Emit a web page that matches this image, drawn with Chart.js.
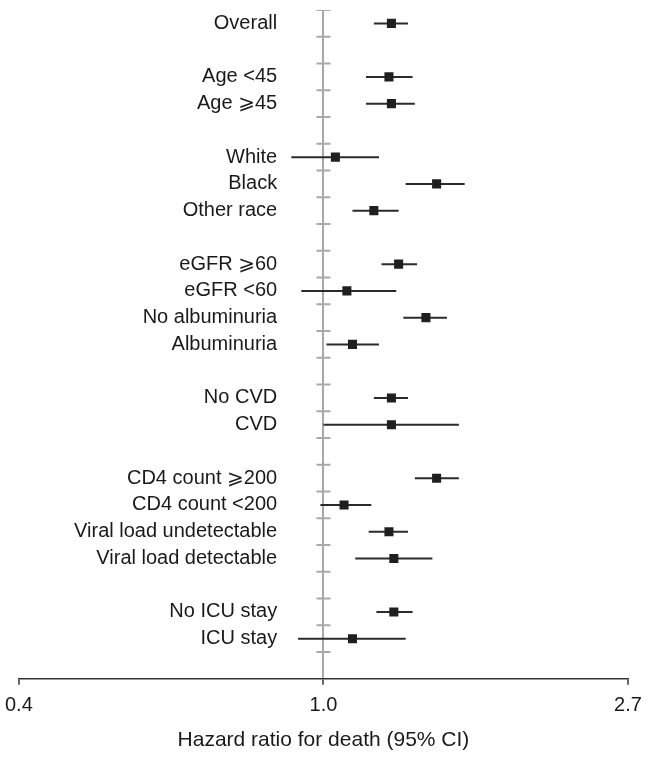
<!DOCTYPE html>
<html>
<head>
<meta charset="utf-8">
<script src="https://cdn.jsdelivr.net/npm/chart.js@4"></script>
<style>
  html, body { margin: 0; padding: 0; background: #fff; }
  #wrap { width: 651px; height: 759px; }
</style>
</head>
<body>
<div id="wrap"><canvas id="forest"></canvas></div>
<script>
// subgroup rows (slot index from the top, blank slots separate the groups)
const labels = [
  "Overall",
  "Age <45", "Age \u2A7E45",
  "White", "Black", "Other race",
  "eGFR \u2A7E60", "eGFR <60", "No albuminuria", "Albuminuria",
  "No CVD", "CVD",
  "CD4 count \u2A7E200", "CD4 count <200", "Viral load undetectable", "Viral load detectable",
  "No ICU stay", "ICU stay"
];
const rows = [0, 2, 3, 5, 6, 7, 9, 10, 11, 12, 14, 15, 17, 18, 19, 20, 22, 23];

// hazard ratios and 95% CI
const hr    = [1.25, 1.24, 1.25, 1.04, 1.45, 1.18, 1.28, 1.08, 1.40, 1.10, 1.25, 1.25, 1.45, 1.07, 1.24, 1.26, 1.26, 1.10];
const lower = [1.18, 1.15, 1.15, 0.90, 1.31, 1.10, 1.21, 0.93, 1.30, 1.01, 1.18, 1.00, 1.35, 0.99, 1.16, 1.11, 1.19, 0.92];
const upper = [1.32, 1.34, 1.35, 1.20, 1.59, 1.28, 1.36, 1.27, 1.50, 1.20, 1.32, 1.56, 1.56, 1.17, 1.32, 1.43, 1.34, 1.31];

// x axis ticks (1/e, 1, e) and their printed labels
const xTicks = [Math.exp(-1), 1, Math.exp(1)];
const xTickLabels = ["0.4", "1.0", "2.7"];

// little marks on the reference line, between rows
const dividerRows = [-0.5, 0.5, 1.5, 2.5, 3.5, 4.5, 5.5, 6.5, 7.5, 8.5, 9.5, 10.5, 11.5,
                     12.5, 13.5, 14.5, 15.5, 16.5, 17.5, 18.5, 19.5, 20.5, 21.5, 22.5, 23.5];

const FONT = "'Liberation Sans', Arial, Helvetica, 'DejaVu Sans', sans-serif";
const TEXT = "#1a1a1a";

// draw CI whiskers under the squares
const errorBars = {
  id: "errorBars",
  beforeDatasetsDraw(chart) {
    const { ctx, scales: { x, y } } = chart;
    ctx.save();
    ctx.strokeStyle = "#2b2b2b";
    ctx.lineWidth = 2;
    rows.forEach((r, i) => {
      const py = y.getPixelForValue(r);
      ctx.beginPath();
      ctx.moveTo(x.getPixelForValue(lower[i]), py);
      ctx.lineTo(x.getPixelForValue(upper[i]), py);
      ctx.stroke();
    });
    ctx.restore();
  }
};

new Chart(document.getElementById("forest"), {
  type: "scatter",
  data: {
    datasets: [
      {
        data: dividerRows.map(r => ({ x: 1, y: r })),
        pointStyle: "line",
        radius: 7,
        borderColor: "#a8a8a8",
        borderWidth: 2,
        hoverRadius: 7
      },
      {
        data: rows.map((r, i) => ({ x: hr[i], y: r })),
        pointStyle: "rect",
        radius: 6.4,
        backgroundColor: "#1f1f1f",
        borderColor: "#1f1f1f",
        borderWidth: 0,
        hoverRadius: 6.4
      }
    ]
  },
  options: {
    responsive: true,
    maintainAspectRatio: false,
    animation: false,
    layout: { padding: { top: 7, left: 16, right: 23, bottom: 3 } },
    plugins: {
      legend: { display: false },
      tooltip: { enabled: false }
    },
    scales: {
      x: {
        type: "logarithmic",
        position: "bottom",
        min: Math.exp(-1),
        max: Math.exp(1),
        afterBuildTicks: scale => { scale.ticks = xTicks.map(v => ({ value: v })); },
        ticks: {
          autoSkip: false,
          maxRotation: 0,
          padding: 5,
          color: TEXT,
          font: { family: FONT, size: 20, lineHeight: 1.55 },
          callback: (v, i) => xTickLabels[i]
        },
        grid: {
          color: ctx => (ctx.tick && ctx.tick.value === 1 ? "#a8a8a8" : "rgba(0,0,0,0)"),
          lineWidth: 2,
          tickColor: "#333",
          tickWidth: 1.5,
          tickLength: 6
        },
        border: { display: true, color: "#333", width: 1.5 },
        title: {
          display: true,
          text: "Hazard ratio for death (95% CI)",
          color: TEXT,
          font: { family: FONT, size: 21 },
          padding: { top: 2, bottom: 3 }
        }
      },
      y: {
        type: "linear",
        position: { x: 0.859 },
        reverse: true,
        min: -0.5,
        max: 24.5,
        afterBuildTicks: scale => { scale.ticks = rows.map(r => ({ value: r })); },
        ticks: {
          autoSkip: false,
          padding: 0,
          color: TEXT,
          font: { family: FONT, size: 20, lineHeight: 1.0 },
          callback: (v, i) => labels[i]
        },
        grid: { display: false, drawTicks: false },
        border: { display: false }
      }
    }
  },
  plugins: [errorBars]
});
</script>
</body>
</html>
